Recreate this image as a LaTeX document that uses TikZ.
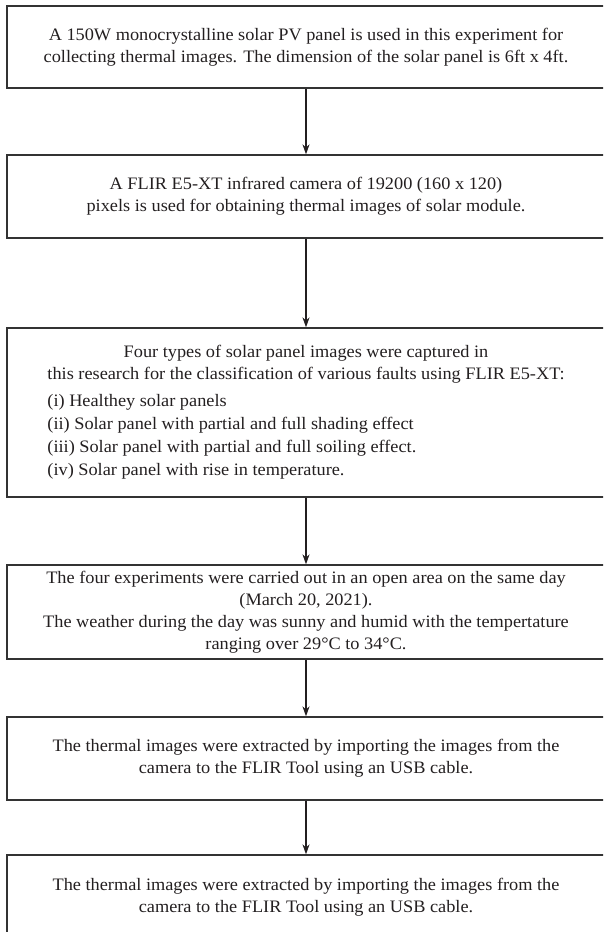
\documentclass[tikz,border=0pt]{standalone}
\usepackage{fontspec}
\setmainfont{Liberation Serif}[FakeStretch=1.045]
\definecolor{inkgray}{HTML}{231F20}
\definecolor{framegray}{HTML}{333333}
\usepackage{tikz}
\usetikzlibrary{arrows.meta}

\tikzset{
  stepbox/.style={draw=framegray, line width=1.3pt, text=inkgray, minimum width=598pt,
    align=center, inner sep=0pt, font=\fontsize{17.5}{22}\selectfont},
  flow/.style={->, line width=1.3pt, inkgray}
}

\begin{document}
\begin{tikzpicture}[x=1pt, y=-1pt, >={Stealth[length=10pt, width=7pt]}]
  \useasboundingbox (0,0) rectangle (603,932);
  \clip (0,0) rectangle (603,932);
  \node[stepbox, minimum height=82pt] (panel) at (306,47)
    {A 150W monocrystalline solar PV panel is used in this experiment for\\
     collecting thermal images. The dimension of the solar panel is 6ft x 4ft.};
  \node[stepbox, minimum height=83pt] (camera) at (306,196.5)
    {A FLIR E5-XT infrared camera of 19200 (160 x 120)\\
     pixels is used for obtaining thermal images of solar module.};
  \node[stepbox, minimum height=169pt] (types) at (306,412.5)
    {\begin{tabular}{@{}l@{}}
     \multicolumn{1}{c}{Four types of solar panel images were captured in}\\
     this research for the classification of various faults using FLIR E5-XT:\\[5pt]
     (i) Healthey solar panels\\[1pt]
     (ii) Solar panel with partial and full shading effect\\[1pt]
     (iii) Solar panel with partial and full soiling effect.\\[1pt]
     (iv) Solar panel with rise in temperature.
     \end{tabular}};
  \node[stepbox, minimum height=94pt] (weather) at (306,612)
    {The four experiments were carried out in an open area on the same day\\
     (March 20, 2021).\\
     The weather during the day was sunny and humid with the tempertature\\
     ranging over 29°C to 34°C.};
  \node[stepbox, minimum height=83pt] (extract) at (306,758.5)
    {The thermal images were extracted by importing the images from the\\
     camera to the FLIR Tool using an USB cable.};
  \node[stepbox, minimum height=84pt] (extract2) at (306,897)
    {The thermal images were extracted by importing the images from the\\
     camera to the FLIR Tool using an USB cable.};
  \draw[flow] (panel) -- (camera);
  \draw[flow] (camera) -- (types);
  \draw[flow] (types) -- (weather);
  \draw[flow] (weather) -- (extract);
  \draw[flow] (extract) -- (extract2);
\end{tikzpicture}
\end{document}
